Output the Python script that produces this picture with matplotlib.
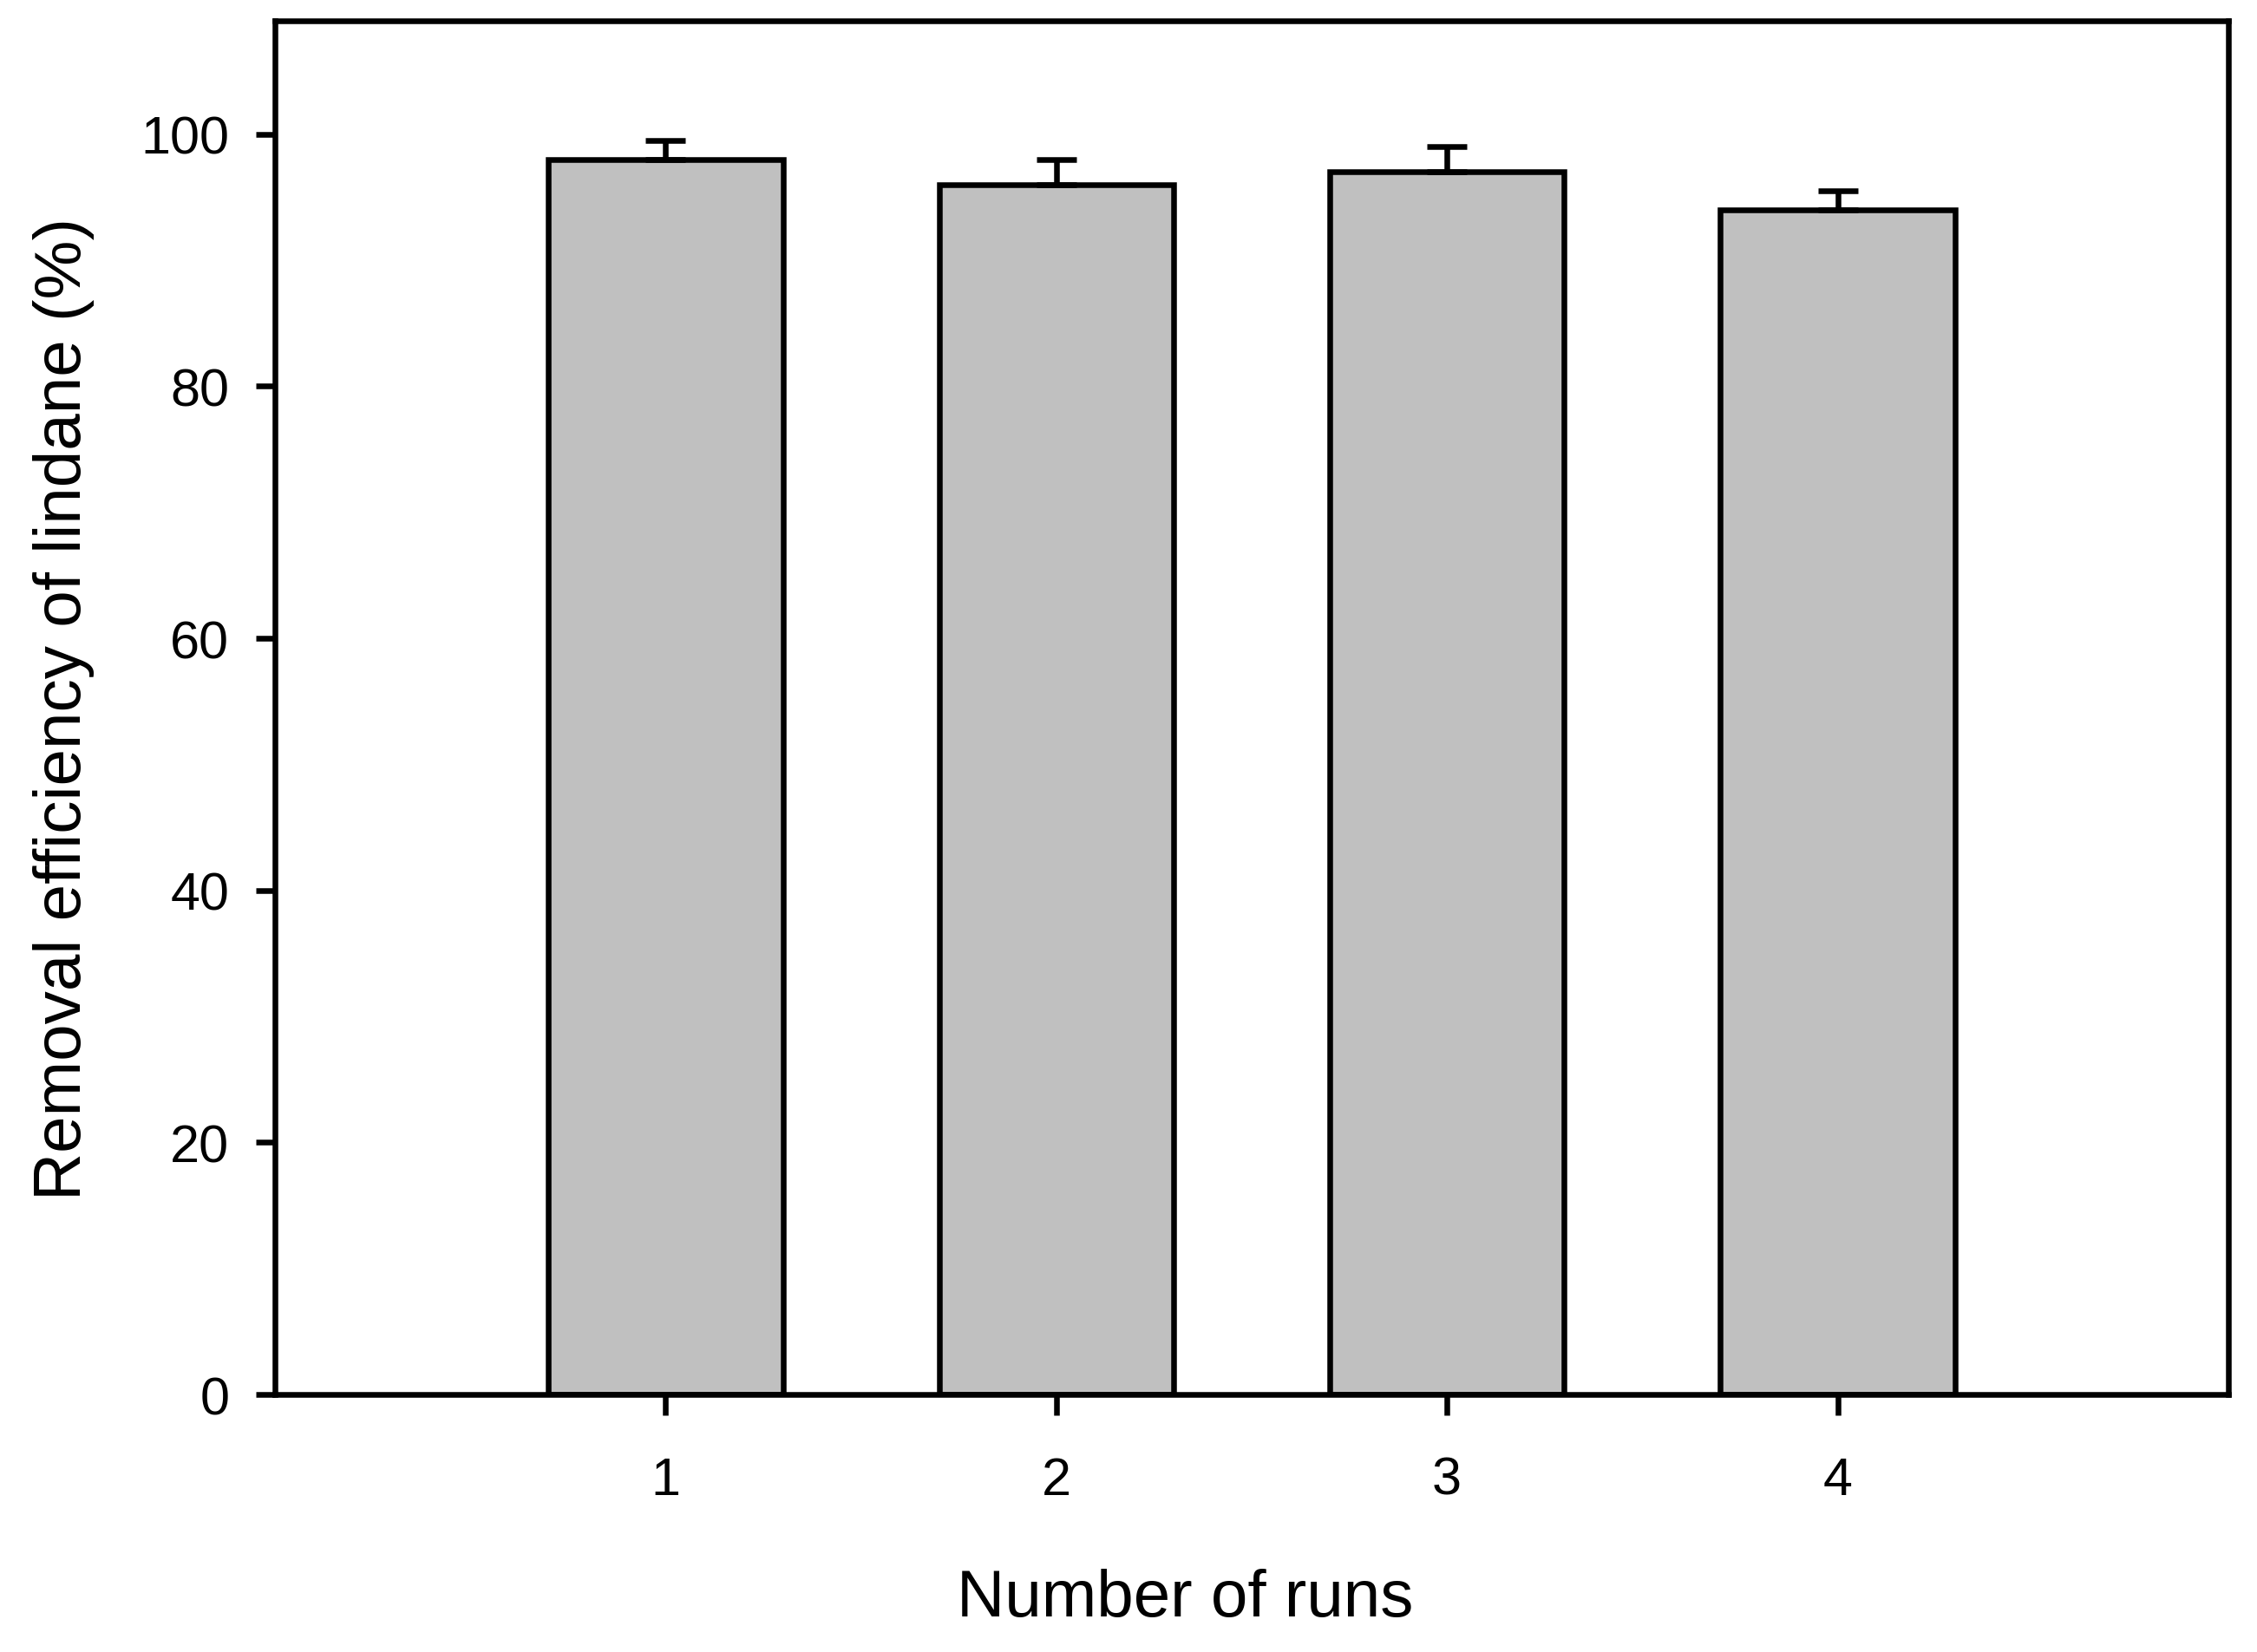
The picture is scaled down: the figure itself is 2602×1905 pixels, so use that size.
import matplotlib
matplotlib.use("Agg")
import matplotlib.pyplot as plt

runs = [1, 2, 3, 4]
run_labels = ["1", "2", "3", "4"]
efficiency = [98.0, 96.0, 97.0, 94.0]
errors = [1.5, 2.0, 2.0, 1.5]
y_ticks = [0, 20, 40, 60, 80, 100]

plt.rcParams['font.family'] = ['Liberation Sans', 'DejaVu Sans']

fig = plt.figure(figsize=(26.02, 19.06), dpi=100)
ax = fig.add_axes([317/2602, 1 - 1609/1906, (2569-317)/2602, (1609-25)/1906])

ax.bar(runs, efficiency, width=0.6, color='#c0c0c0', edgecolor='black',
       linewidth=4.7, zorder=2)
ax.errorbar(runs, efficiency, yerr=[[0]*len(errors), errors], fmt='none',
            ecolor='black', elinewidth=4.7, capsize=16.5, capthick=4.7, zorder=3)

ax.set_xlim(0, 5)
ax.set_ylim(0, 109)
ax.set_xticks(runs)
ax.set_xticklabels(run_labels)
ax.set_yticks(y_ticks)

for s in ax.spines.values():
    s.set_linewidth(4.7)

ax.tick_params(axis='y', direction='out', length=16, width=4.7, labelsize=44, pad=22)
ax.tick_params(axis='x', direction='out', length=17, width=4.7, labelsize=44, pad=34)

ax.set_xlabel("Number of runs", fontsize=55, labelpad=52)
ax.xaxis.label.set_x(0.466)
ax.set_ylabel("Removal efficiency of lindane (%)", fontsize=55, labelpad=38)

fig.savefig("out.png", dpi=100)
